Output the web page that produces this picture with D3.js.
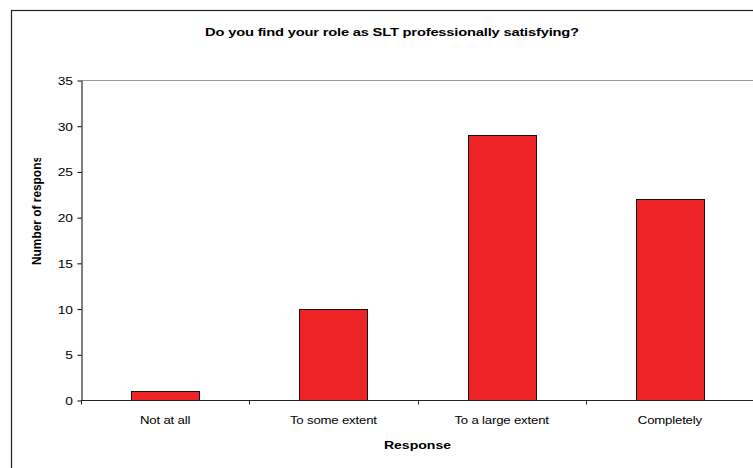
<!DOCTYPE html>
<html><head><meta charset="utf-8">
<script src="https://cdn.jsdelivr.net/npm/d3@7"></script>
<style>body{margin:0;background:#fff}svg{display:block}text{font-family:Arial,"Liberation Sans",sans-serif}</style>
</head><body>
<script>
const categories = ["Not at all", "To some extent", "To a large extent", "Completely"];
const values = [1, 10, 29, 22];
const yTicks = [0, 5, 10, 15, 20, 25, 30, 35];
const title = "Do you find your role as SLT professionally satisfying?";
const xTitle = "Response";
const yTitle = "Number of responses";

const W = 753, H = 468;
const SX = 1.2, SXB = 1.28; // horizontal stretch of the reference's text
const svg = d3.select("body").append("svg").attr("width", W).attr("height", H);
svg.append("rect").attr("width", W).attr("height", H).attr("fill", "#fff");
svg.append("rect").attr("x", 11.5).attr("y", 10.5).attr("width", 800).attr("height", 500)
  .attr("fill", "none").attr("stroke", "#222").attr("stroke-width", 1.2);

const m = {left: 81, right: 754, top: 80, bottom: 400};
const xb = d3.scaleBand().domain(categories).range([m.left, m.right]);
const y = d3.scaleLinear().domain([0, 35]).range([m.bottom, m.top]);
const barW = xb.bandwidth() * 0.405;

svg.append("line").attr("x1", m.left).attr("x2", m.right).attr("y1", y(35) + 0.5).attr("y2", y(35) + 0.5)
  .attr("stroke", "#999").attr("stroke-width", 1);

svg.selectAll("rect.bar").data(values).enter().append("rect").attr("class", "bar")
  .attr("x", (d, i) => Math.round(xb(categories[i]) + xb.bandwidth() / 2 - barW / 2) + 0.5)
  .attr("width", Math.round(barW))
  .attr("y", d => Math.round(y(d)) + 0.5)
  .attr("height", d => y(0) - Math.round(y(d)))
  .attr("fill", "#ee2326").attr("stroke", "#111").attr("stroke-width", 1);

// y axis
const yAxis = d3.axisLeft(y).tickValues(yTicks).tickSize(4).tickSizeOuter(0);
const gy = svg.append("g").attr("transform", `translate(${m.left + 0.5},0.5)`).call(yAxis);
gy.select(".domain").attr("stroke", "#000");
gy.selectAll(".tick line").attr("stroke", "#000");
gy.selectAll(".tick text").attr("font-size", 11.5).attr("fill", "#000").attr("x", 0).attr("dy", "0.35em")
  .attr("transform", `translate(-8.5,0) scale(${SX},1)`)
  .attr("font-family", "Arial, 'Liberation Sans', sans-serif");

// x axis with ticks at category boundaries
const gx = svg.append("g").attr("transform", `translate(0,${m.bottom + 0.5})`);
gx.append("line").attr("x1", m.left).attr("x2", m.right).attr("stroke", "#222");
const bounds = categories.map(c => xb(c)).concat([m.right]);
gx.selectAll("line.t").data(bounds).enter().append("line").attr("class", "t")
  .attr("x1", d => Math.round(d) + 0.5).attr("x2", d => Math.round(d) + 0.5).attr("y1", 0).attr("y2", 4).attr("stroke", "#222");
gx.selectAll("text").data(categories).enter().append("text")
  .attr("transform", d => `translate(${xb(d) + xb.bandwidth() / 2},23) scale(${SX},1)`)
  .attr("text-anchor", "middle").attr("font-size", 11).attr("letter-spacing", -0.15)
  .attr("fill", "#000").text(d => d);

// titles
svg.append("text").attr("transform", `translate(392,36) scale(${SXB},1)`).attr("text-anchor", "middle")
  .attr("font-size", 11.5).attr("font-weight", "bold").attr("letter-spacing", -0.15).text(title);
svg.append("text").attr("transform", `translate(${(m.left + m.right) / 2},449) scale(${SXB},1)`).attr("text-anchor", "middle")
  .attr("font-size", 11).attr("font-weight", "bold").text(xTitle);

svg.append("clipPath").attr("id", "yclip").append("rect").attr("x", 0).attr("y", 158).attr("width", 80).attr("height", 200);
svg.append("g").attr("clip-path", "url(#yclip)").append("text")
  .attr("transform", "translate(41,265) rotate(-90) scale(1,1.15)").attr("text-anchor", "start")
  .attr("font-size", 11.9).attr("font-weight", "bold").text(yTitle);
</script>
</body></html>
